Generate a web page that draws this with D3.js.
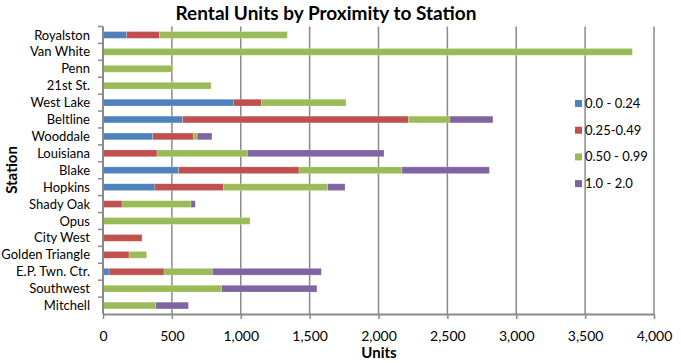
<!DOCTYPE html>
<html>
<head>
<meta charset="utf-8">
<script src="https://cdn.jsdelivr.net/npm/d3@7/dist/d3.min.js"></script>
<style>
  body { margin: 0; background: #fff; }
  svg { display: block; font-family: Lato, "Open Sans", sans-serif; }
</style>
</head>
<body>
<div id="chart"></div>
<script>
// Station list, top to bottom
const stations = ['Royalston', 'Van White', 'Penn', '21st St.', 'West Lake', 'Beltline',
  'Wooddale', 'Louisiana', 'Blake', 'Hopkins', 'Shady Oak', 'Opus', 'City West',
  'Golden Triangle', 'E.P. Twn. Ctr.', 'Southwest', 'Mitchell'];

// Distance bands (miles) and units in each band, per station
const bands = ['0.0 - 0.24', '0.25-0.49', '0.50 - 0.99', '1.0 - 2.0'];
const near    = [172, 0, 0, 0, 946, 578, 361, 0, 549, 377, 0, 0, 0, 0, 44, 0, 0];
const close   = [239, 0, 0, 0, 206, 1639, 294, 392, 874, 499, 138, 0, 283, 189, 399, 0, 0];
const mid     = [927, 3843, 506, 784, 612, 302, 29, 656, 747, 755, 501, 1067, 0, 128, 351, 862, 383];
const far     = [0, 0, 0, 0, 0, 312, 107, 992, 635, 126, 31, 0, 0, 0, 791, 691, 237];
const xTicks  = [0, 500, 1000, 1500, 2000, 2500, 3000, 3500, 4000];

const colors = ['#4f81bd', '#c0504d', '#9bbb59', '#8064a2'];

const width = 681, height = 363;
const margin = { top: 26.5, right: 27, bottom: 49, left: 103 };

const svg = d3.select('#chart').append('svg')
    .attr('width', width)
    .attr('height', height);

const x = d3.scaleLinear().domain([0, 4000]).range([margin.left, 654]);
const y = d3.scaleBand().domain(stations)
    .range([margin.top, height - margin.bottom])
    .paddingInner(0.6).paddingOuter(0.3);

const rows = stations.map((s, i) => ({ station: s, v: [near[i], close[i], mid[i], far[i]] }));
const stacked = d3.stack().keys([0, 1, 2, 3]).value((d, k) => d.v[k])(rows);

// gridlines
svg.append('g').selectAll('line')
    .data(xTicks.slice(1))
    .join('line')
    .attr('x1', d => x(d)).attr('x2', d => x(d))
    .attr('y1', margin.top).attr('y2', height - margin.bottom)
    .attr('stroke', '#8a8a8a').attr('stroke-width', 1.5);

// bars
svg.append('g').selectAll('g')
    .data(stacked)
    .join('g')
    .attr('fill', (d, i) => colors[i])
    .selectAll('rect')
    .data(d => d)
    .join('rect')
    .attr('x', d => x(d[0]))
    .attr('width', d => x(d[1]) - x(d[0]))
    .attr('y', d => y(d.data.station))
    .attr('height', y.bandwidth())
    .attr('stroke', 'rgba(255,255,255,0.35)')
    .attr('stroke-width', 0.6);

// x axis
const xAxis = svg.append('g')
    .attr('transform', `translate(0,${height - margin.bottom})`)
    .call(d3.axisBottom(x).tickValues(xTicks).tickFormat(d3.format(',')).tickSize(5).tickSizeOuter(0));
xAxis.select('.domain').attr('stroke', '#8a8a8a').attr('stroke-width', 2);
xAxis.selectAll('.tick line').attr('stroke', '#8a8a8a').attr('stroke-width', 1.5);
xAxis.selectAll('.tick text').attr('font-size', 14).attr('fill', '#000')
    .attr('y', 17).attr('dy', '0.71em')
    .attr('font-family', 'Lato, sans-serif');

// y axis
const step = y.step();
const yAxis = svg.append('g').attr('transform', `translate(${margin.left},0)`);
yAxis.append('line')
    .attr('x1', 0).attr('x2', 0)
    .attr('y1', margin.top).attr('y2', height - margin.bottom)
    .attr('stroke', '#8a8a8a').attr('stroke-width', 2);
yAxis.selectAll('.ytick')
    .data(stations)
    .join('line')
    .attr('x1', -5).attr('x2', 0)
    .attr('y1', d => y(d) + y.bandwidth() / 2 - step / 2)
    .attr('y2', d => y(d) + y.bandwidth() / 2 - step / 2)
    .attr('stroke', '#8a8a8a').attr('stroke-width', 1.5);
yAxis.selectAll('text')
    .data(stations)
    .join('text')
    .attr('x', -13)
    .attr('y', d => y(d) + y.bandwidth() / 2)
    .attr('dy', '0.35em')
    .attr('text-anchor', 'end')
    .attr('font-size', 13)
    .text(d => d);

// title and axis titles
svg.append('text')
    .attr('x', 326).attr('y', 20)
    .attr('text-anchor', 'middle')
    .attr('font-size', 19).attr('font-weight', 'bold')
    .text('Rental Units by Proximity to Station');
svg.append('text')
    .attr('x', 379).attr('y', 358)
    .attr('text-anchor', 'middle')
    .attr('font-size', 15).attr('font-weight', 'bold')
    .text('Units');
svg.append('text')
    .attr('transform', 'translate(17,170) rotate(-90)')
    .attr('text-anchor', 'middle')
    .attr('font-size', 15).attr('font-weight', 'bold')
    .text('Station');

// legend
const legend = svg.append('g').selectAll('g')
    .data(bands)
    .join('g')
    .attr('transform', (d, i) => `translate(575,${103.5 + i * 26.7})`);
legend.append('rect')
    .attr('x', 0).attr('y', -3.5)
    .attr('width', 7).attr('height', 7)
    .attr('fill', (d, i) => colors[i]);
legend.append('text')
    .attr('x', 10).attr('dy', '0.35em')
    .attr('font-size', 13)
    .text(d => d);
</script>
</body>
</html>
